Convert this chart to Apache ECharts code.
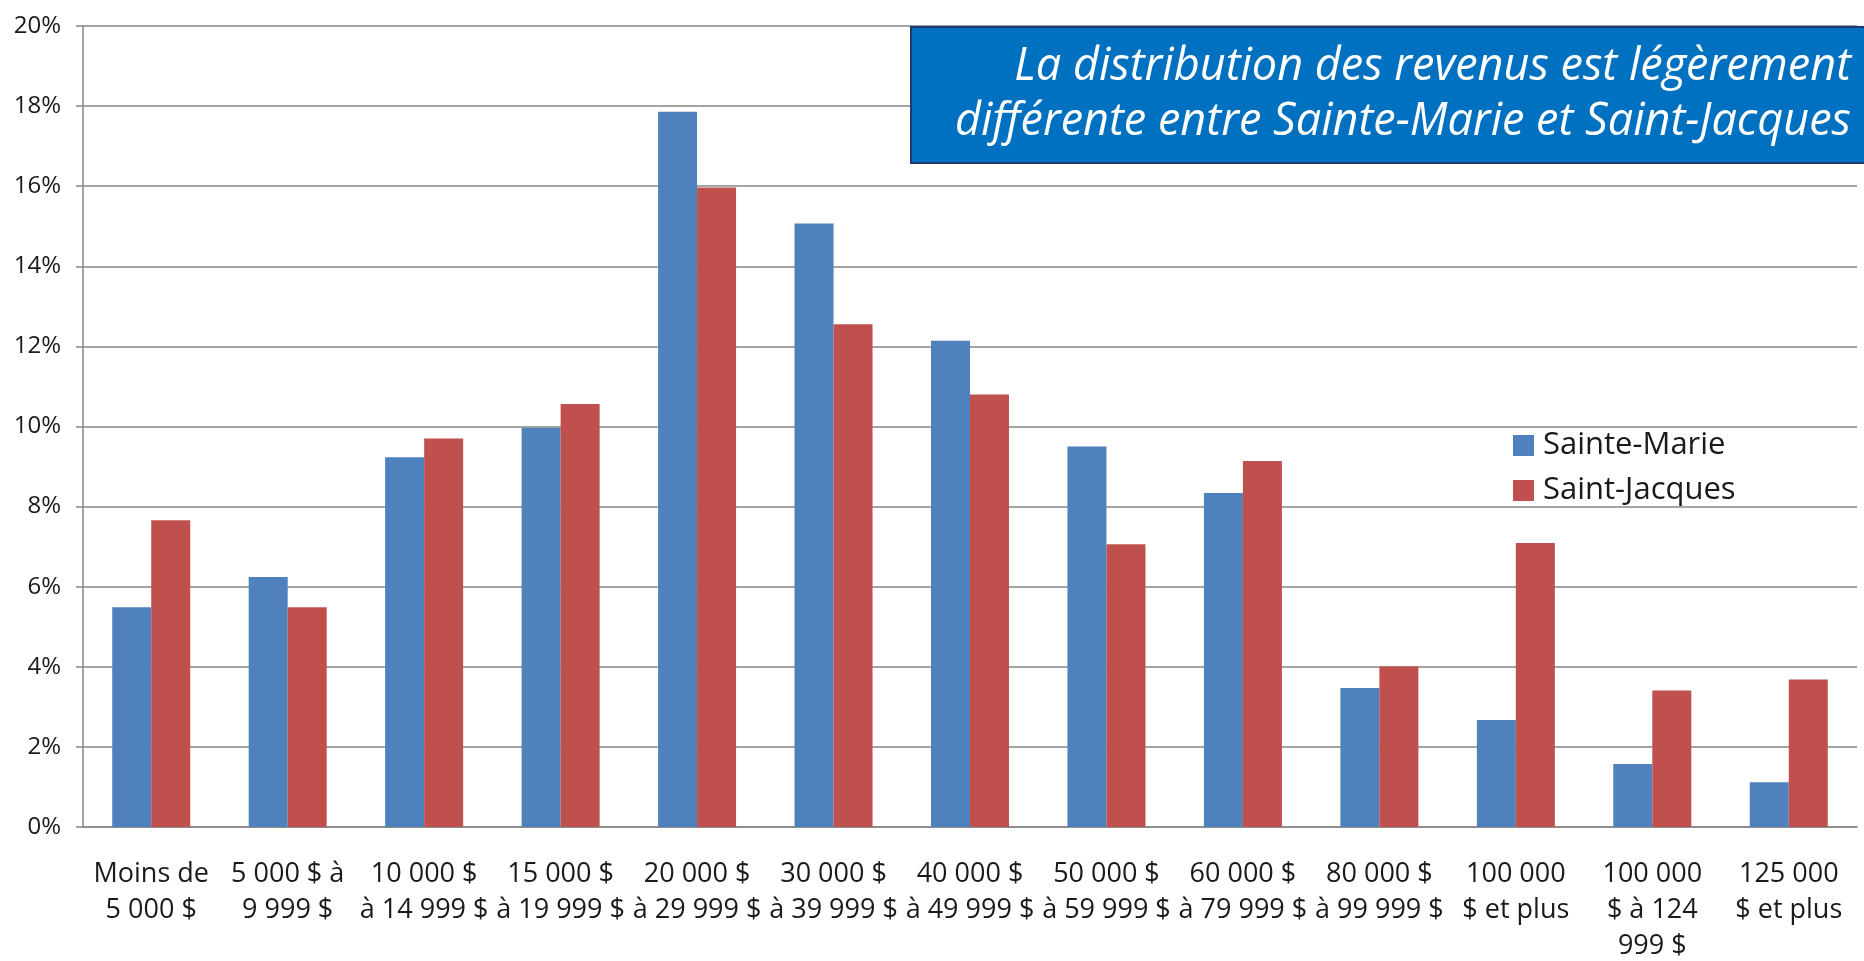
<!DOCTYPE html>
<html>
<head>
<meta charset="utf-8">
<script src="https://cdn.jsdelivr.net/npm/echarts@6/dist/echarts.min.js"></script>
<style>
  html, body { margin: 0; padding: 0; background: #fff; }
  #chart { width: 1864px; height: 961px; }
</style>
</head>
<body>
<div id="chart"></div>
<script>
// tranches de revenu
var categories = [
  'Moins de\n5 000 $',
  '5 000 $ à\n9 999 $',
  '10 000 $\nà 14 999 $',
  '15 000 $\nà 19 999 $',
  '20 000 $\nà 29 999 $',
  '30 000 $\nà 39 999 $',
  '40 000 $\nà 49 999 $',
  '50 000 $\nà 59 999 $',
  '60 000 $\nà 79 999 $',
  '80 000 $\nà 99 999 $',
  '100 000\n$ et plus',
  '100 000\n$ à 124\n999 $',
  '125 000\n$ et plus'
]
var sainteMarie = [5.49, 6.24, 9.23, 9.97, 17.86, 15.07, 12.14, 9.50, 8.34, 3.47, 2.67, 1.57, 1.12]
var saintJacques = [7.66, 5.49, 9.70, 10.56, 15.97, 12.55, 10.80, 7.06, 9.14, 4.01, 7.09, 3.41, 3.68]
var titre = 'La distribution des revenus est légèrement\ndifférente entre Sainte-Marie et Saint-Jacques'

var chart = echarts.init(document.getElementById('chart'))
var font = '"Open Sans", sans-serif'

chart.setOption({
  animation: false,
  grid: { left: 83, right: 7, top: 26, bottom: 134, outerBoundsMode: 'none', containLabel: false },
  legend: {
    orient: 'vertical',
    left: 1508,
    top: 425,
    icon: 'rect',
    itemWidth: 21,
    itemHeight: 21,
    itemGap: 14,
    textStyle: { fontFamily: font, fontSize: 31, color: '#1a1a1a', padding: [0, 0, 0, 4] },
    data: ['Sainte-Marie', 'Saint-Jacques']
  },
  xAxis: {
    type: 'category',
    data: categories,
    axisLine: { lineStyle: { color: '#868686', width: 1.5 } },
    axisTick: { length: 10, lineStyle: { color: '#868686', width: 1.5 } },
    axisLabel: {
      interval: 0,
      margin: 29,
      fontFamily: font,
      fontSize: 27,
      lineHeight: 36,
      color: '#1a1a1a'
    }
  },
  yAxis: {
    type: 'value',
    min: 0,
    max: 20,
    interval: 2,
    axisLine: { show: true, lineStyle: { color: '#868686', width: 1.5 } },
    axisTick: { show: true, length: 7, lineStyle: { color: '#868686', width: 1.5 } },
    splitLine: { lineStyle: { color: '#868686', width: 1.5 } },
    axisLabel: {
      formatter: '{value}%',
      margin: 22,
      fontFamily: font,
      fontSize: 24,
      color: '#1a1a1a'
    }
  },
  series: [{
    name: 'Sainte-Marie',
    type: 'bar',
    data: sainteMarie,
    barWidth: 39,
    barGap: '0%',
    itemStyle: { color: '#4F81BD' }
  }, {
    name: 'Saint-Jacques',
    type: 'bar',
    data: saintJacques,
    barWidth: 39,
    itemStyle: { color: '#C0504D' }
  }],
  graphic: [{
    type: 'rect',
    z: 100,
    zlevel: 1,
    shape: { x: 911, y: 27, width: 960, height: 136 },
    style: { fill: '#0070C0', stroke: '#1F3A6E', lineWidth: 2 }
  }, {
    type: 'text',
    z: 101,
    zlevel: 1,
    style: {
      x: 1851,
      y: 95,
      text: titre,
      align: 'right',
      verticalAlign: 'middle',
      fontFamily: font,
      fontStyle: 'italic',
      fontSize: 45,
      lineHeight: 55,
      fill: '#ffffff'
    }
  }]
})
</script>
</body>
</html>
